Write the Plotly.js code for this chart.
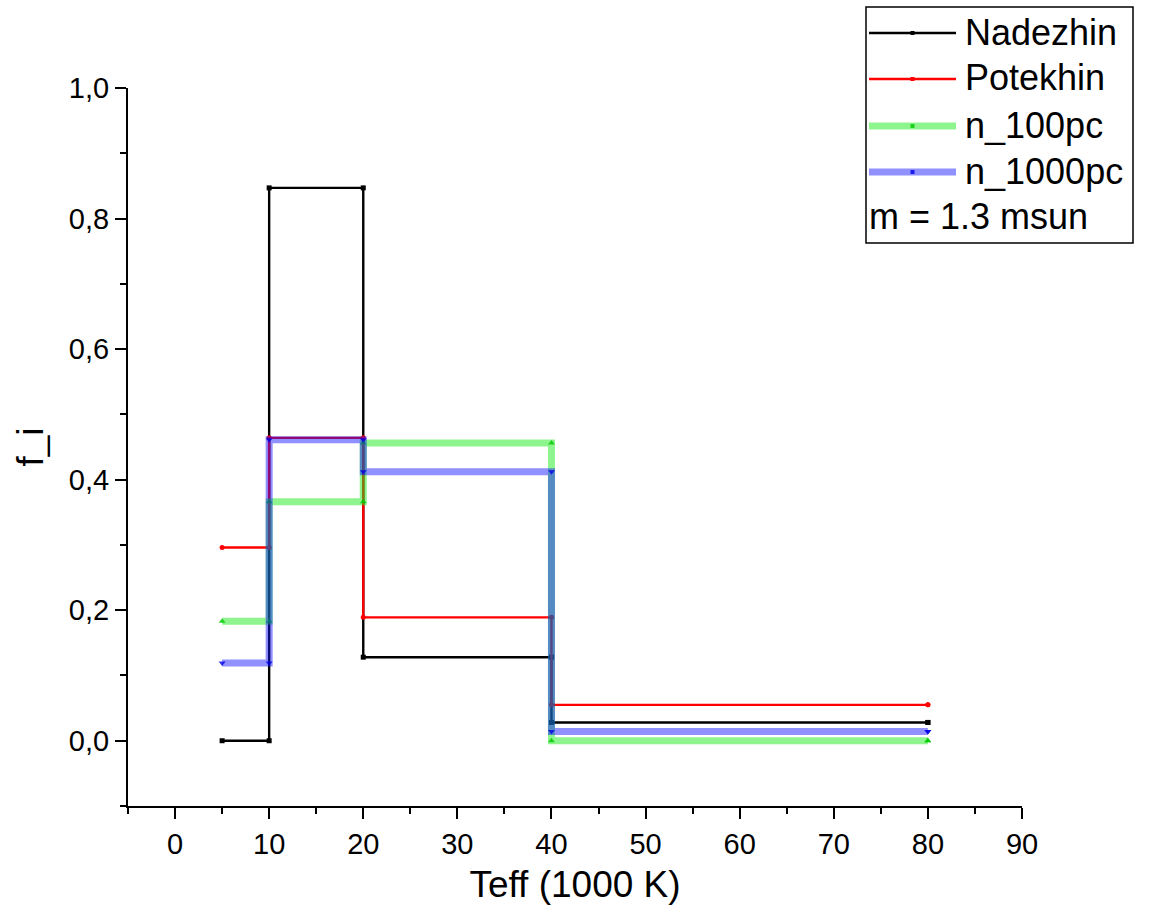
<!DOCTYPE html>
<html>
<head>
<meta charset="utf-8">
<script src="https://cdn.plot.ly/plotly-3.0.1.min.js"></script>
<style>html,body{margin:0;padding:0;background:#fff;}#chart{width:1158px;height:924px;}</style>
</head>
<body>
<div id="chart"></div>
<script>
// ---- data ----
const xTeff = [5, 10, 20, 40, 80];
const nadezhin = [0.0, 0.847, 0.128, 0.028, 0.028];
const potekhin = [0.296, 0.464, 0.189, 0.055, 0.055];
const n100pc = [0.183, 0.366, 0.456, 0.0, 0.0];
const n1000pc = [0.119, 0.461, 0.412, 0.014, 0.014];
const seriesNames = ["Nadezhin", "Potekhin", "n_100pc", "n_1000pc"];
const noteText = "m = 1.3 msun";
const xTitle = "Teff (1000 K)";
const yTitle = "f_i";

// ---- styles ----
const styles = [
  {color: "#000000", width: 2.4, symbol: "square", msize: 5, mcolor: "#000000"},
  {color: "#ff0000", width: 2.4, symbol: "circle", msize: 5, mcolor: "#ff0000"},
  {color: "rgba(30,235,30,0.5)", width: 7, symbol: "triangle-up", msize: 6, mcolor: "rgba(0,200,0,0.8)"},
  {color: "rgba(20,20,255,0.47)", width: 7, symbol: "triangle-down", msize: 6, mcolor: "rgba(0,0,230,0.8)"}
];
const seriesData = [nadezhin, potekhin, n100pc, n1000pc];

// build a horizontal step path (corner points) from the data
function steps(xs, ys) {
  const X = [], Y = [];
  for (let i = 0; i < xs.length; i++) {
    if (i > 0) { X.push(xs[i]); Y.push(ys[i - 1]); }
    X.push(xs[i]); Y.push(ys[i]);
  }
  return {X, Y};
}

const traces = seriesData.map((ys, k) => {
  const s = steps(xTeff, ys);
  const st = styles[k];
  return {
    type: "scatter", mode: "lines+markers", name: seriesNames[k],
    x: s.X, y: s.Y,
    line: {color: st.color, width: st.width},
    marker: {symbol: st.symbol, size: st.msize, color: st.mcolor},
    showlegend: false, hoverinfo: "skip"
  };
});

// ---- layout ----
const W = 1158, H = 924;
const M = {l: 128, r: 136, t: 88, b: 118};
const pw = W - M.l - M.r, ph = H - M.t - M.b;
const px = v => (v - M.l) / pw;
const py = v => (H - M.b - v) / ph;
const FONT = "Liberation Sans, Arial, sans-serif";

const shapes = [];
const annotations = [];
// legend box
shapes.push({type: "rect", xref: "paper", yref: "paper",
  x0: px(866), x1: px(1133), y0: py(243), y1: py(7),
  line: {color: "#000", width: 1.5}, fillcolor: "rgba(0,0,0,0)"});
const rowY = [33, 79, 126, 172];
seriesNames.forEach((nm, k) => {
  const st = styles[k];
  shapes.push({type: "line", xref: "paper", yref: "paper",
    x0: px(869), x1: px(956), y0: py(rowY[k]), y1: py(rowY[k]),
    line: {color: st.color, width: st.width}});
  shapes.push({type: "rect", xref: "paper", yref: "paper",
    x0: px(910.5), x1: px(914.5), y0: py(rowY[k] + 2), y1: py(rowY[k] - 2),
    line: {width: 0}, fillcolor: st.mcolor});
  annotations.push({xref: "paper", yref: "paper", x: px(963), y: py(rowY[k] - 1),
    xanchor: "left", yanchor: "middle", showarrow: false, text: nm,
    font: {family: FONT, size: 36, color: "#000"}});
});
annotations.push({xref: "paper", yref: "paper", x: px(867), y: py(217),
  xanchor: "left", yanchor: "middle", showarrow: false, text: noteText,
  font: {family: FONT, size: 36, color: "#000"}});

const layout = {
  width: W, height: H, margin: M,
  paper_bgcolor: "#fff", plot_bgcolor: "#fff",
  separators: ", ",
  font: {family: FONT, color: "#000"},
  showlegend: false,
  xaxis: {
    range: [-5, 90], tick0: 0, dtick: 10, tickmode: "linear",
    showline: true, linecolor: "#000", linewidth: 2,
    ticks: "outside", ticklen: 11, tickwidth: 2, tickcolor: "#000",
    minor: {dtick: 5, tick0: 0, ticks: "outside", ticklen: 6, tickwidth: 2, tickcolor: "#000", showgrid: false},
    showgrid: false, zeroline: false,
    tickfont: {family: FONT, size: 29, color: "#000"},
    title: {text: xTitle, font: {family: FONT, size: 37, color: "#000"}, standoff: 12},
    automargin: false, fixedrange: true
  },
  yaxis: {
    range: [-0.1, 1.0], tick0: 0, dtick: 0.2, tickmode: "linear", tickformat: ".1f",
    showline: true, linecolor: "#000", linewidth: 2,
    ticks: "outside", ticklen: 11, tickwidth: 2, tickcolor: "#000",
    minor: {dtick: 0.1, tick0: 0, ticks: "outside", ticklen: 6, tickwidth: 2, tickcolor: "#000", showgrid: false},
    showgrid: false, zeroline: false,
    tickfont: {family: FONT, size: 29, color: "#000"},
    title: {text: yTitle, font: {family: FONT, size: 37, color: "#000"}, standoff: 14},
    automargin: false, fixedrange: true
  },
  shapes: shapes,
  annotations: annotations
};

Plotly.newPlot("chart", traces, layout, {displayModeBar: false, staticPlot: true});
</script>
</body>
</html>
